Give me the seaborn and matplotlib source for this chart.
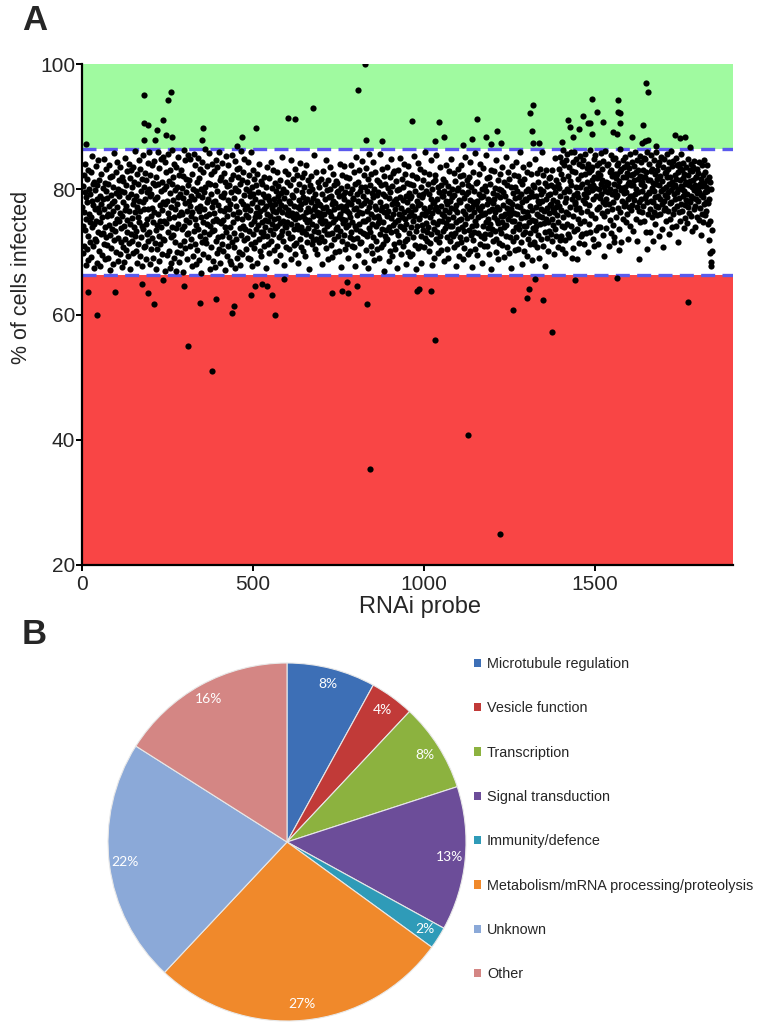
import numpy as np
import pandas as pd
import matplotlib
matplotlib.use("Agg")
import matplotlib.pyplot as plt
from matplotlib.patches import Patch
import seaborn as sns

# % of cells infected for each RNAi probe in probe order (probe 1, 2, ...)
screen_values = """
77.2 80.5 74.1 69.8 82.3 76.4 71.0 79.6 84.1 73.5 67.9 78.8 75.2 81.7 70.4 77.9 83.0 72.6 68.7 80.1 76.0 74.8 79.3 71.5
82.8 75.6 69.2 78.1 73.9 85.3 77.5 70.9 80.9 74.4 67.4 81.2 76.8 72.1 79.9 83.7 75.0 71.8 78.5 68.3 80.6 73.2 77.0 84.6
70.2 76.3 81.4 74.7 79.0 67.8 82.5 72.9 77.6 75.5 69.5 80.2 73.0 78.4 84.9 71.3 76.9 81.0 74.0 68.9 79.7 72.4 83.3 75.8
78.6 71.1 80.8 76.1 69.0 83.9 74.3 77.3 72.7 81.9 67.1 79.1 75.9 70.6 82.1 77.8 73.6 80.3 68.1 76.6 85.8 71.9 78.2 74.6
73.3 79.4 82.7 70.0 77.1 75.3 84.3 68.5 80.0 72.2 78.9 74.9 81.5 69.6 76.2 83.5 71.6 79.8 73.8 67.6 82.0 75.7 70.8 78.0
81.3 74.2 68.4 79.5 76.7 72.0 85.0 77.4 70.3 80.7 73.1 82.9 75.1 69.3 78.7 84.0 71.4 76.5 81.8 74.5 67.3 79.2 72.8 83.1
75.4 80.4 71.7 77.7 83.6 69.9 74.0 81.1 78.3 72.5 86.1 76.4 70.1 79.0 73.4 82.4 68.2 77.2 80.8 75.6 71.2 84.7 74.8 78.1
69.4 83.2 76.6 72.3 79.8 74.1 81.6 67.7 77.9 85.5 73.7 70.7 80.3 76.9 82.6 71.0 78.5 74.4 68.8 81.4 75.2 79.6 72.9 84.2
76.8 71.8 80.0 85.9 73.1 78.9 68.0 82.2 75.8 70.5 79.3 77.0 83.8 72.2 74.7 81.0 69.1 76.3 84.5 78.4 71.4 80.6 73.5 67.2
82.0 78.7 74.3 70.4 86.0 76.0 80.9 72.6 68.6 83.4 77.5 75.0 71.3 79.7 84.8 73.9 81.2 69.7 76.7 78.0 85.2 72.0 74.9 80.1
71.9 84.4 77.6 66.9 80.5 74.6 82.8 69.5 78.2 73.2 85.6 76.2 70.2 81.3 75.4 67.5 79.4 83.1 72.4 77.1 68.3 80.8 74.0 86.2
78.3 72.7 81.9 75.5 69.0 84.1 76.8 71.6 79.9 67.0 83.6 73.8 80.4 77.7 70.0 85.1 74.5 78.8 68.4 82.3 75.9 71.1 79.2 76.4
83.0 69.8 76.1 80.2 73.6 78.6 66.8 82.1 74.2 86.3 71.7 77.8 84.6 70.6 79.5 75.1 81.7 68.9 76.6 72.9 80.7 85.4 73.0 78.1
74.8 81.5 70.9 77.3 84.9 72.1 79.0 75.7 67.8 82.5 76.3 69.4 80.0 73.4 85.7 78.4 71.2 83.8 75.3 68.0 79.8 74.3 81.1 77.0
70.3 79.1 85.0 73.7 76.5 68.7 81.8 77.4 72.5 83.3 66.7 80.1 75.6 78.7 71.5 84.3 74.7 69.6 82.7 76.9 79.6 73.1 86.4 72.0
80.3 75.8 71.4 83.7 77.9 74.4 69.2 81.0 78.5 85.8 72.8 76.0 67.3 80.9 74.1 79.3 82.4 70.8 77.2 73.3 84.0 68.6 78.0 75.0
76.2 82.9 73.5 67.6 80.6 78.1 84.7 71.8 75.3 79.7 69.9 83.5 74.9 77.5 72.3 86.0 70.5 81.4 76.7 68.2 82.0 74.6 79.0 71.3
84.2 72.6 78.8 75.1 70.1 82.6 76.5 79.4 67.1 74.0 81.2 85.3 73.2 77.0 69.3 80.5 75.7 83.9 71.0 78.3 72.4 76.8 80.7 68.5
73.9 77.7 68.1 81.6 79.5 71.6 85.5 74.8 82.2 76.1 70.7 78.6 73.0 84.5 67.4 80.2 77.3 72.1 79.9 75.4 83.2 69.0 81.9 76.3
79.8 70.0 83.4 76.4 73.8 80.8 67.9 78.2 72.7 86.1 75.2 81.5 69.7 77.6 74.2 82.8 71.9 79.1 84.8 73.6 76.9 70.4 80.0 75.9
72.2 81.1 77.4 84.3 69.1 75.5 79.7 73.4 82.3 68.9 78.9 76.7 71.2 85.9 74.5 80.3 67.7 77.8 83.0 72.8 79.2 75.0 70.6 81.7
75.6 78.4 71.5 80.6 73.7 76.2 68.3 82.5 77.1 74.3 79.6 72.0 84.0 75.8 70.2 78.0 76.5 81.3 73.1 69.4 77.9 74.7 80.9 72.5
79.3 73.2 76.9 70.9 82.0 75.1 78.7 74.0 67.5 80.4 77.3 72.6 83.6 76.0 79.0 71.3 74.9 81.8 78.3 69.8 75.7 73.5 77.6 84.4
71.7 77.0 80.2 74.4 76.6 83.1 72.9 78.5 75.3 70.3 81.0 73.8 77.7 68.6 79.8 76.3 74.1 82.7 71.0 78.9 75.4 80.5 72.3 76.8
78.1 74.6 69.5 81.5 77.5 72.7 79.4 85.1 73.3 76.4 71.8 80.0 75.0 78.6 67.9 82.9 74.2 77.2 70.7 79.6 73.9 76.1 81.2 74.8
82.4 76.7 73.0 78.2 70.5 75.9 80.7 72.2 77.8 84.7 74.5 68.8 79.1 76.2 72.4 81.6 75.5 78.8 73.6 71.1 77.4 83.3 75.3 69.6
76.0 71.4 79.9 74.3 82.2 77.1 73.7 68.2 80.8 75.6 78.3 72.1 76.9 84.2 70.8 77.6 74.0 79.5 81.9 73.1 75.8 70.1 78.7 82.6
73.4 80.3 75.2 77.9 69.3 83.8 76.3 72.8 78.4 74.7 71.6 81.4 77.0 73.8 79.7 67.2 75.1 80.6 76.6 72.6 82.1 78.0 74.4 71.2
80.1 75.7 78.6 71.9 76.8 73.4 85.4 70.4 77.3 79.2 74.2 82.8 72.0 76.4 78.1 69.7 81.1 75.9 73.2 77.7 80.4 71.5 76.2 74.9
77.5 72.3 81.7 75.4 68.0 79.3 74.6 77.0 82.9 71.7 76.0 73.5 80.8 78.5 75.0 70.6 84.6 77.1 72.9 79.9 74.1 68.9 81.5 76.5
72.8 78.8 74.5 80.1 76.3 83.5 71.1 75.8 79.0 73.0 77.6 69.2 82.4 74.8 78.2 76.9 72.1 80.7 75.3 70.0 77.8 81.3 73.7 79.6
81.0 74.0 77.2 72.5 79.8 75.6 70.2 78.9 76.1 84.1 73.3 80.2 67.6 77.4 75.2 82.3 71.8 79.1 74.6 76.7 72.7 78.4 83.7 70.5
75.1 79.5 73.9 82.0 77.3 71.3 76.6 80.5 74.3 78.0 69.0 81.8 76.2 72.4 79.4 75.5 83.9 73.1 77.7 70.9 80.0 74.7 78.6 72.0
78.5 82.7 70.7 76.8 74.2 80.9 67.8 77.0 73.6 85.2 79.2 72.2 75.9 81.2 69.5 78.1 74.5 83.0 76.4 71.4 79.7 73.4 77.5 80.4
71.6 76.2 84.5 73.0 79.0 75.0 68.4 82.2 77.8 72.9 80.3 74.9 78.3 70.3 83.4 76.6 72.6 79.8 67.5 81.7 75.3 77.2 73.8 85.6
80.7 73.2 77.9 71.0 82.5 76.0 79.4 74.4 69.9 84.3 72.3 78.7 75.6 80.0 68.7 77.3 82.8 71.7 76.9 74.1 79.1 70.4 81.4 75.7
74.6 79.6 69.1 81.1 75.2 78.0 72.8 85.7 76.7 70.8 80.6 73.7 77.1 83.2 71.2 79.3 74.8 67.0 82.1 76.3 72.5 78.9 80.8 73.5
77.4 71.9 83.6 75.8 72.0 80.2 76.5 68.6 78.6 74.0 81.9 70.1 79.5 75.4 84.8 73.1 77.6 80.5 69.3 76.1 82.6 74.3 71.3 78.2
82.9 76.8 74.7 70.5 78.4 73.3 81.3 77.7 67.4 79.9 75.1 83.1 72.7 76.0 80.1 71.5 85.0 74.2 78.8 69.6 77.0 81.6 73.9 75.5
70.9 78.3 80.3 73.6 76.4 84.0 71.8 75.3 82.4 68.1 79.0 74.5 77.9 72.1 81.0 76.7 70.0 83.7 75.8 79.4 73.0 78.6 69.4 80.9
76.3 73.9 78.9 82.3 69.7 77.3 74.9 80.6 72.4 85.3 75.7 71.1 79.7 76.9 73.4 82.0 67.3 78.1 74.1 81.8 77.5 70.6 84.2 75.2
79.1 75.4 71.0 77.6 83.3 72.6 80.4 68.3 76.1 78.7 74.3 81.5 73.5 79.2 70.7 77.0 82.7 75.9 72.2 86.0 74.6 79.8 76.4 71.7
73.1 80.8 76.6 74.0 79.3 70.2 82.5 77.2 75.5 71.4 84.6 78.4 72.9 76.2 80.0 67.9 77.8 74.7 81.2 73.7 78.0 69.1 82.2 76.8
81.4 72.0 77.1 85.4 74.4 78.5 73.2 69.8 80.3 76.5 71.6 79.6 75.0 83.5 72.5 77.4 80.7 70.3 78.9 74.9 76.0 81.7 73.3 79.0
75.8 79.7 68.5 76.7 81.1 73.8 78.2 74.6 83.8 70.5 77.7 72.3 80.5 75.3 69.0 82.9 76.3 79.4 71.8 78.1 74.2 84.9 72.8 77.0
78.8 74.1 80.1 72.6 75.6 82.6 70.8 79.1 76.9 73.0 81.3 67.7 77.5 74.8 79.9 71.2 76.4 83.2 73.6 80.2 75.1 69.3 78.3 82.1
72.4 77.9 83.9 75.2 71.5 79.5 74.0 80.9 68.9 76.6 82.3 73.4 78.6 70.6 85.1 76.1 74.5 79.2 72.1 81.5 77.3 75.4 69.7 80.6
79.6 73.5 76.8 81.9 70.1 78.3 84.4 72.7 75.7 80.4 67.6 77.1 74.2 82.8 78.0 71.9 76.3 79.8 73.1 85.8 75.0 70.4 81.0 77.6
74.3 81.2 78.1 69.5 77.0 75.5 73.0 82.4 79.3 71.3 76.7 84.1 72.5 78.8 75.9 80.1 68.2 77.4 74.1 79.0 83.4 72.2 76.0 71.0
80.5 76.2 72.9 79.7 85.5 74.7 77.7 70.9 81.8 75.3 73.8 78.5 69.6 82.0 76.5 72.8 80.8 74.4 78.2 67.2 83.0 76.9 73.7 79.4
77.8 71.7 82.9 75.6 78.4 73.3 80.2 76.4 70.0 84.7 72.0 79.1 75.1 77.2 81.4 68.8 74.6 80.0 71.4 76.8 82.5 78.7 73.6 75.8
73.0 79.9 74.8 83.6 71.1 77.5 75.7 79.6 73.9 69.2 81.1 76.0 78.9 72.6 85.2 74.3 80.7 77.0 70.7 78.1 75.2 82.7 69.9 76.5
81.6 75.9 78.0 72.3 76.9 80.3 67.4 83.7 74.9 77.6 71.8 79.4 73.4 82.2 76.2 75.0 78.6 70.3 80.4 74.0 84.3 72.4 77.3 79.8
76.1 82.1 70.5 78.7 74.5 73.6 81.3 77.1 85.9 71.6 79.2 75.4 68.1 80.9 77.9 72.9 76.6 83.5 74.2 81.7 70.2 78.4 75.6 73.2
78.3 74.2 79.7 76.3 82.8 69.4 75.8 72.1 80.0 78.8 74.7 84.0 71.2 77.4 73.0 79.5 82.4 75.1 68.7 76.7 80.6 73.8 78.9 71.5
71.3 80.4 75.0 84.8 73.5 77.2 79.0 74.1 70.8 82.6 76.0 78.2 72.7 81.2 75.7 69.0 77.8 80.1 74.4 83.3 76.9 72.0 79.3 86.0
75.5 78.1 82.3 71.0 79.8 74.6 76.5 81.0 73.1 67.8 78.5 75.3 83.1 72.2 80.5 77.0 74.8 79.1 70.1 76.2 81.8 73.4 77.5 82.0
79.2 72.8 77.6 80.7 75.2 83.0 71.7 78.3 76.8 74.3 80.3 69.7 76.4 79.6 73.7 85.0 77.1 72.5 81.5 75.9 78.0 70.7 74.7 80.8
83.2 77.4 80.2 71.9 85.1 79.0 72.6 82.5 76.7 84.3 74.2 70.4 81.6 75.6 86.2 79.5 73.9 83.8 77.9 69.8 71.9 84.7 78.6 76.3
80.0 85.6 74.5 82.1 72.9 76.1 83.5 72.3 79.8 81.3 77.2 85.9 74.2 80.6 69.1 82.9 78.4 84.4 75.7 70.6 79.1 73.3 86.0 77.7
78.0 82.7 76.9 84.9 80.4 73.7 79.4 68.8 75.3 81.7 78.7 71.4 84.1 77.0 80.3 85.3 74.6 82.2 72.5 76.4 83.7 72.9 80.8 78.3
84.6 79.3 71.2 75.0 82.4 77.8 85.7 80.1 73.0 78.8 83.4 76.6 81.1 70.0 79.6 84.0 77.5 82.8 74.4 80.5 86.3 73.1 75.9 83.1
76.0 81.4 79.9 83.6 72.1 80.7 78.5 84.8 70.9 82.0 75.4 80.2 85.5 73.5 79.0 81.8 76.8 83.9 74.0 71.2 82.6 80.0 84.2 77.1
82.3 78.6 74.0 80.9 85.8 79.2 76.2 83.3 81.5 72.7 78.0 84.5 80.4 75.8 69.4 77.6 86.1 79.8 73.8 81.2 78.4 83.8 76.5 80.6
79.5 84.1 81.0 77.7 70.9 82.8 80.1 75.1 85.4 73.0 83.1 76.9 79.3 82.1 74.3 84.9 77.9 71.6 80.8 72.4 79.7 85.0 82.4 78.8
81.8 75.5 83.9 79.1 82.5 77.0 84.2 80.5 73.6 81.3 70.3 86.4 76.3 82.9 79.9 71.6 83.2 78.1 80.2 84.7 75.2 82.0 79.4 77.4
83.6 80.3 77.8 85.2 74.8 81.9 79.6 82.6 76.1 84.0 78.5 72.0 80.9 83.4 77.2 81.1 85.6 79.0 74.1 82.2 80.7 76.7 84.4 78.9
77.5 82.4 80.6 73.4 83.7 78.3 81.5 85.9 79.2 75.3 82.8 80.0 77.1 84.6 71.8 81.7 79.5 83.0 76.6 68.9 78.0 85.3 82.1 74.7
80.8 78.4 84.3 81.2 76.4 79.8 83.1 77.3 82.0 85.0 74.9 80.5 78.6 81.9 84.8 73.1 79.1 82.7 77.9 70.5 86.0 76.0 81.4 79.6
79.4 84.0 76.8 81.5 73.2 82.9 78.1 85.4 80.2 75.6 83.3 77.9 81.0 71.8 79.7 84.7 76.3 82.4 78.8 74.5 80.9 85.9 77.4 83.0
81.7 75.9 79.0 83.8 77.1 72.6 80.6 84.3 78.5 82.1 76.0 85.1 79.8 73.7 81.3 77.6 83.6 80.0 70.8 78.2 84.9 76.7 82.6 79.1
77.0 82.8 80.4 74.9 85.6 78.7 81.9 76.5 83.2 79.5 72.9 80.8 84.4 77.8 82.0 75.3 79.9 86.1 78.0 81.2 73.9 83.7 80.3 76.1
84.5 79.2 76.9 82.3 80.7 78.4 85.0 74.2 81.6 77.3 83.9 79.6 71.5 82.7 80.1 76.4 84.1 78.6 81.4 75.0 83.4 77.7 80.5 85.7
80.0 83.1 76.6 81.8 78.9 84.2 73.8 79.7 82.5 77.5 80.9 75.4 83.5 78.3 81.1 74.6 79.3 84.8 77.2 82.2 80.6 76.2 78.1 83.0
81.3 77.9 84.0 79.0 75.8 82.9 80.3 73.3 78.6 83.6 81.5 76.8 79.9 84.5 77.4 80.7 74.0 82.0 78.5 81.9 75.5 79.4 83.3 80.2
78.2 82.6 79.6 75.1 84.3 80.8 77.0 81.6 72.7 79.1 83.8 76.0 80.5 78.8 82.3 74.8 81.0 77.6 84.6 79.5 75.9 82.8 78.0 80.4
76.5 81.4 79.8 83.9 74.4 80.1 77.8 82.0 71.9 78.4 69.8 81.2 75.0 68.4 80.0 67.7 73.5 70.2
"""

# probes outside the normal band (hits), probe number and % infected
hit_probes = [18, 44, 97, 175, 194, 211, 236, 298, 310, 345, 380, 391, 438, 444, 493, 505,
              525, 540, 555, 564, 590, 730, 759, 774, 778, 803, 834, 841, 979, 985, 1020,
              1032, 1128, 1222, 1260, 1300, 1306, 1323, 1347, 1373, 1441, 1563, 1771,
              11, 181, 252, 260, 181, 194, 218, 237, 181, 213, 245, 262, 350, 353, 452,
              467, 509, 603, 622, 676, 806, 827, 829, 877, 965, 1032, 1044, 1058, 1114,
              1139, 1154, 1181, 1195, 1213, 1225, 1309, 1315, 1318, 1318, 1336, 1403,
              1420, 1426, 1435, 1452, 1464, 1479, 1485, 1490, 1490, 1505, 1522, 1552,
              1563, 1566, 1566, 1572, 1572, 1607, 1637, 1640, 1645, 1648, 1654, 1654,
              1677, 1733, 1748, 1762, 1777]
hit_values = [63.6, 59.9, 63.6, 64.9, 63.4, 61.6, 65.5, 64.6, 55.0, 61.9, 51.0, 62.4, 60.2,
              61.3, 63.1, 64.6, 64.9, 64.6, 63.1, 59.9, 65.7, 63.4, 63.7, 65.2, 63.4, 64.6,
              61.6, 35.3, 63.7, 64.0, 63.7, 56.0, 40.7, 25.0, 60.7, 62.6, 64.1, 65.7, 62.3,
              57.2, 65.5, 65.8, 62.0,
              87.3, 95.0, 94.2, 95.5, 90.6, 90.3, 89.5, 91.0, 87.9, 87.9, 88.7, 88.4, 87.9,
              89.8, 86.9, 88.3, 89.8, 91.3, 91.2, 92.9, 95.8, 100.0, 87.9, 87.7, 90.9, 87.7,
              90.7, 88.4, 87.1, 88.0, 91.2, 88.3, 87.3, 89.3, 87.4, 92.2, 89.3, 93.5, 87.4,
              87.4, 87.5, 91.0, 89.9, 88.4, 89.6, 91.7, 90.5, 90.5, 94.4, 88.9, 92.4, 90.7,
              89.2, 88.9, 94.2, 92.4, 92.2, 90.5, 88.4, 87.4, 90.3, 87.7, 96.9, 95.5, 87.9,
              86.9, 88.7, 88.2, 88.4, 86.7]

upper_cut = 86.5
lower_cut = 66.3
y_ticks = [20, 40, 60, 80, 100]
x_ticks = [0, 500, 1000, 1500]

categories = ["Microtubule regulation", "Vesicle function", "Transcription",
              "Signal transduction", "Immunity/defence",
              "Metabolism/mRNA processing/proteolysis", "Unknown", "Other"]
shares = [8, 4, 8, 13, 2, 27, 22, 16]
pie_colors = ["#3d6fb6", "#c13a38", "#8cb23f", "#6c4d99", "#2f9bb8",
              "#f0892b", "#8ba9d8", "#d48684"]

values = np.array(screen_values.split(), dtype=float)
screen = pd.DataFrame({"probe": np.arange(1, len(values) + 1), "infected": values})
hits = pd.DataFrame({"probe": hit_probes, "infected": hit_values})
df = pd.concat([screen, hits], ignore_index=True)

sns.set_theme(style="ticks")
plt.rcParams["font.family"] = ["Liberation Sans", "DejaVu Sans"]

W, H = 760, 1029
fig = plt.figure(figsize=(W / 100, H / 100), dpi=100)

# panel A
ax = fig.add_axes([82 / W, 1 - 565 / H, 651 / W, 501 / H])
ax.axhspan(upper_cut, 100, color="#a0faa0", lw=0, zorder=0)
ax.axhspan(20, lower_cut, color="#f94545", lw=0, zorder=0)
for yc in (upper_cut, lower_cut):
    ax.axhline(yc, color="#5a5aec", lw=2.4, dashes=(4.2, 2.2), zorder=1)
sns.scatterplot(data=df, x="probe", y="infected", ax=ax, color="black", s=20,
                linewidth=0, zorder=3, legend=False)
ax.set_xlim(0, 1903)
ax.set_ylim(20, 100)
ax.set_xticks(x_ticks)
ax.set_yticks(y_ticks)
for side in ("top", "right"):
    ax.spines[side].set_visible(False)
for side in ("left", "bottom"):
    ax.spines[side].set_linewidth(1.6)
    ax.spines[side].set_color("black")
ax.tick_params(axis="both", labelsize=15, length=4, width=1.4, color="black")
ax.tick_params(axis="y", pad=1)
ax.tick_params(axis="x", pad=3)
ax.set_xlabel("RNAi probe", fontsize=17)
ax.set_ylabel("% of cells infected", fontsize=15.5)
ax.xaxis.set_label_coords(0.519, -0.062)
ax.yaxis.set_label_coords(-0.077, 0.573)

fig.text(22 / W, 1 - 4 / H, "A", fontsize=25, fontweight="bold", va="top", ha="left")
fig.text(22 / W, 1 - 618 / H, "B", fontsize=25, fontweight="bold", va="top", ha="left")

# panel B
r = 179
cx, cy = 287, 842
pax = fig.add_axes([(cx - r) / W, (H - cy - r) / H, 2 * r / W, 2 * r / H])
wedges, texts, autotexts = pax.pie(
    shares, colors=pie_colors, startangle=90, counterclock=False,
    autopct="%1.0f%%", pctdistance=0.91,
    wedgeprops=dict(edgecolor="#e8e8e8", linewidth=0.8),
    textprops=dict(color="white", fontsize=10, family=["Lato", "DejaVu Sans"]))
pax.set_xlim(-1, 1)
pax.set_ylim(-1, 1)
pax.set_axis_off()

handles = [Patch(facecolor=c, edgecolor="none") for c in pie_colors]
fig.legend(handles, categories, loc="upper left",
           bbox_to_anchor=(474 / W, 1 - 657 / H), frameon=False, fontsize=10.4,
           labelspacing=2.1, handlelength=0.5, handleheight=0.5,
           handletextpad=0.4, borderpad=0, borderaxespad=0)

fig.savefig("out.png", dpi=100)
